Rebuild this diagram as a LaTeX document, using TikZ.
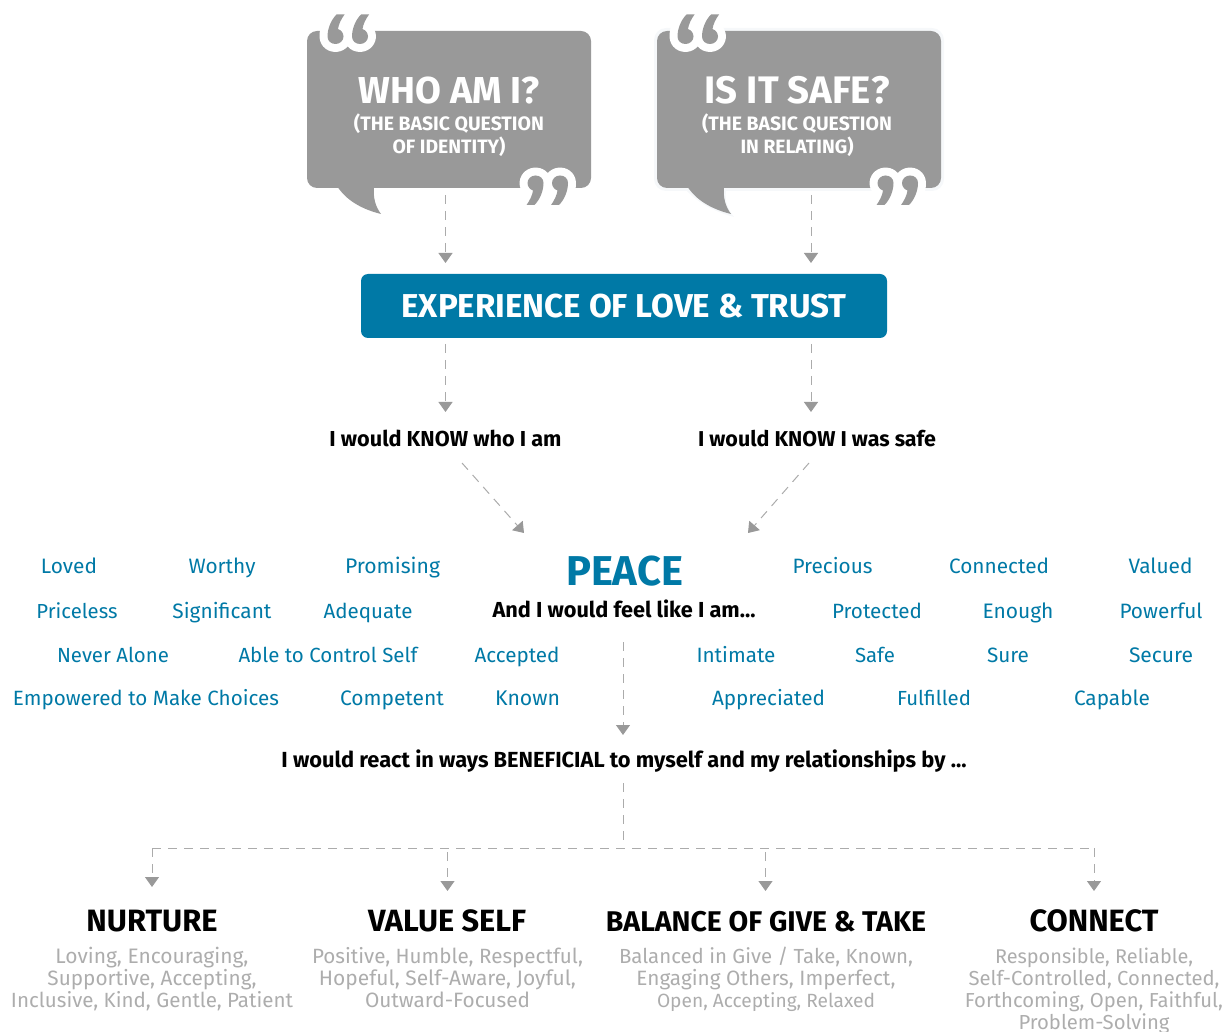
\documentclass[tikz,border=0pt]{standalone}
\usepackage{fontspec}
\usepackage{graphicx}
\setmainfont{Fira Sans}
\usetikzlibrary{arrows.meta}
\definecolor{tealblue}{HTML}{0079A6}
\definecolor{bubgray}{HTML}{999999}
\definecolor{dashgray}{HTML}{ABABAB}
\definecolor{softgray}{HTML}{ADADAD}
\definecolor{halo}{HTML}{F6F8FA}
\newcommand{\T}[7][]{\node[lab,#1] (#2) at (#3,#4) {\resizebox{#5pt}{!}{\fontsize{#6}{#6}\selectfont #7}};}
\newcommand{\sixpath}{(1,-22) .. controls (-5,-16) and (-8,-7) .. (-8,0) .. controls (-8,4.5) and (-4.5,7.5) .. (0,7.5) .. controls (4.5,7.5) and (8,4) .. (8,0) .. controls (8,-3.5) and (5.5,-6.5) .. (2.5,-7.5) .. controls (3,-12) and (6,-18) .. (9,-22) -- cycle}
\tikzset{
  lab/.style={anchor=base,inner sep=0pt,outer sep=0pt},
  kw/.style={lab,text=tealblue},
  hd/.style={lab,text=black,font=\bfseries},
  wt/.style={lab,text=white,font=\bfseries},
  sf/.style={lab,text=softgray},
  bubble/.style={fill=bubgray,rounded corners=10pt,minimum width=284pt,minimum height=157pt,inner sep=0pt},
  flow/.style={draw=dashgray,line width=1pt,dash pattern=on 9pt off 7pt,-{Triangle[length=10pt,width=14pt,fill=bubgray,color=bubgray]}},
  trunk/.style={draw=dashgray,line width=1pt,dash pattern=on 9pt off 7pt},
  lovebox/.style={fill=tealblue,rounded corners=7pt,minimum width=526pt,minimum height=64pt,inner sep=0pt,text=white,font=\bfseries},
  qhalo/.style={fill=white,draw=white,line width=16pt,line join=round},
}
\begin{document}
\begin{tikzpicture}[x=1pt,y=-1pt]
\useasboundingbox (0,0) rectangle (1227,1032);
% halo of the second bubble
\fill[halo,rounded corners=12pt] (654,28) rectangle (944,191);
\fill[halo] (684,188) .. controls (697,202) and (712,211) .. (734,217) .. controls (726,207) and (724,198) .. (727,186) -- cycle;
% bubbles
\node[bubble] (who) at (449,109.5) {};
\fill[bubgray] (337,186) .. controls (346,200) and (361,209) .. (381,214) .. controls (375,206) and (373,197) .. (374,186) -- cycle;
\node[bubble] (safe) at (799,109.5) {};
\fill[bubgray] (687,186) .. controls (696,200) and (711,209) .. (731,214) .. controls (725,206) and (723,197) .. (724,186) -- cycle;
% quote marks: white halos first, then the marks
\foreach \ox in {0,350}{
  \begin{scope}[shift={(335.5+\ox,36.5)}]
    \fill[qhalo] \sixpath;
  \end{scope}
  \begin{scope}[shift={(360+\ox,36.5)}]
    \fill[qhalo] \sixpath;
  \end{scope}
  \begin{scope}[shift={(535.5+\ox,183)},x=-1pt,y=1pt]
    \fill[qhalo] \sixpath;
  \end{scope}
  \begin{scope}[shift={(560+\ox,183)},x=-1pt,y=1pt]
    \fill[qhalo] \sixpath;
  \end{scope}
}
\fill[white] (300,0) rectangle (960,15);
\fill[white] (510,205) rectangle (600,225);
\fill[white] (860,205) rectangle (950,225);
\foreach \ox in {0,350}{
  \begin{scope}[shift={(335.5+\ox,36.5)}]
    \fill[bubgray] \sixpath;
  \end{scope}
  \begin{scope}[shift={(360+\ox,36.5)}]
    \fill[bubgray] \sixpath;
  \end{scope}
  \begin{scope}[shift={(535.5+\ox,183)},x=-1pt,y=1pt]
    \fill[bubgray] \sixpath;
  \end{scope}
  \begin{scope}[shift={(560+\ox,183)},x=-1pt,y=1pt]
    \fill[bubgray] \sixpath;
  \end{scope}
}
% bubble text
\T[wt]{q1}{449}{104}{181}{34}{WHO AM I?}
\T[wt]{q1a}{449}{131}{190}{18}{(THE BASIC QUESTION}
\T[wt]{q1b}{449}{153.5}{113}{18}{OF IDENTITY)}
\T[wt]{q2}{797}{104}{185}{34}{IS IT SAFE?}
\T[wt]{q2a}{797}{131}{190}{18}{(THE BASIC QUESTION}
\T[wt]{q2b}{797}{153.5}{113}{18}{IN RELATING)}
% central box
\node[lovebox] (love) at (624,306) {\resizebox{445pt}{!}{\fontsize{30}{30}\selectfont EXPERIENCE OF LOVE \& TRUST}};
% statements
\T[hd]{know1}{445.5}{446.5}{232}{20}{I would KNOW who I am}
\T[hd]{know2}{817}{446}{238}{20}{I would KNOW I was safe}
\T[hd,text=tealblue]{peace}{624.5}{585}{117}{38}{PEACE}
\T[hd]{feel}{624}{617.5}{263}{20}{And I would feel like I am...}
\T[hd]{react}{624}{767}{685}{20}{I would react in ways BENEFICIAL to myself and my relationships by ...}
% keywords
\T[kw]{k01}{69}{573}{56}{20}{Loved}
\T[kw]{k02}{222}{573}{67}{20}{Worthy}
\T[kw]{k03}{392.5}{573}{95}{20}{Promising}
\T[kw]{k04}{832.5}{573}{80}{20}{Precious}
\T[kw]{k05}{999}{573}{100}{20}{Connected}
\T[kw]{k06}{1160.5}{573}{64}{20}{Valued}
\T[kw]{k07}{77}{618}{81}{20}{Priceless}
\T[kw]{k08}{222}{618}{99}{20}{Significant}
\T[kw]{k09}{368}{618}{89}{20}{Adequate}
\T[kw]{k10}{877}{618}{90}{20}{Protected}
\T[kw]{k11}{1018}{618}{71}{20}{Enough}
\T[kw]{k12}{1161}{618}{83}{20}{Powerful}
\T[kw]{k13}{113}{662}{112}{20}{Never Alone}
\T[kw]{k14}{328}{662}{179}{20}{Able to Control Self}
\T[kw]{k15}{517}{662}{85}{20}{Accepted}
\T[kw]{k16}{736}{662}{79}{20}{Intimate}
\T[kw]{k17}{875}{662}{40}{20}{Safe}
\T[kw]{k18}{1008}{662}{42}{20}{Sure}
\T[kw]{k19}{1161}{662}{64}{20}{Secure}
\T[kw]{k20}{146}{705}{266}{20}{Empowered to Make Choices}
\T[kw]{k21}{392}{705}{104}{20}{Competent}
\T[kw]{k22}{527.5}{705}{65}{20}{Known}
\T[kw]{k23}{768.5}{705}{113}{20}{Appreciated}
\T[kw]{k24}{934}{705}{74}{20}{Fulfilled}
\T[kw]{k25}{1112}{705}{76}{20}{Capable}
% headings
\T[hd]{h1}{152}{931.5}{131}{27}{NURTURE}
\T[hd]{h2}{447}{931.5}{158}{27}{VALUE SELF}
\T[hd]{h3}{766}{931.5}{320}{27}{BALANCE OF GIVE \& TAKE}
\T[hd]{h4}{1094}{931.5}{129}{27}{CONNECT}
% descriptions
\T[sf]{d11}{152}{963.5}{193}{20}{Loving, Encouraging,}
\T[sf]{d12}{152}{985.5}{209}{20}{Supportive, Accepting,}
\T[sf]{d13}{152}{1007}{282}{20}{Inclusive, Kind, Gentle, Patient}
\T[sf]{d21}{447.5}{963.5}{271}{20}{Positive, Humble, Respectful,}
\T[sf]{d22}{447.5}{985.5}{257}{20}{Hopeful, Self-Aware, Joyful,}
\T[sf]{d23}{447.5}{1007}{165}{20}{Outward-Focused}
\T[sf]{d31}{766}{963.5}{294}{20}{Balanced in Give / Take, Known,}
\T[sf]{d32}{766}{985.5}{259}{20}{Engaging Others, Imperfect,}
\T[sf]{d33}{766}{1007}{218}{20}{Open, Accepting, Relaxed}
\T[sf]{d41}{1094}{963.5}{198}{20}{Responsible, Reliable,}
\T[sf]{d42}{1094}{985.5}{251}{20}{Self-Controlled, Connected,}
\T[sf]{d43}{1094}{1007}{258}{20}{Forthcoming, Open, Faithful,}
\T[sf]{d44}{1094}{1029}{151}{20}{Problem-Solving}
% connector ends
\coordinate (w0) at (445.5,195); \coordinate (w1) at (445.5,263);
\coordinate (s0) at (811,195); \coordinate (s1) at (811,263);
\coordinate (l0) at (445.5,344); \coordinate (l1) at (445.5,412);
\coordinate (r0) at (811,344); \coordinate (r1) at (811,412);
\coordinate (dl0) at (462,463); \coordinate (dl1) at (524,533);
\coordinate (dr0) at (809,463); \coordinate (dr1) at (748,533);
\coordinate (c0) at (623,642); \coordinate (c1) at (623,735);
\coordinate (t0) at (623,783); \coordinate (t1) at (623,843);
\coordinate (bl) at (152,848); \coordinate (br) at (1094,848);
\coordinate (n1) at (152,887); \coordinate (n2) at (447.5,891);
\coordinate (n3) at (765.5,891); \coordinate (n4) at (1094,891);
\coordinate (m2) at (447.5,852); \coordinate (m3) at (765.5,852);
% connectors
\draw[flow] (w0) -- (w1);
\draw[flow] (s0) -- (s1);
\draw[flow] (l0) -- (l1);
\draw[flow] (r0) -- (r1);
\draw[flow] (dl0) -- (dl1);
\draw[flow] (dr0) -- (dr1);
\draw[flow] (c0) -- (c1);
\draw[trunk] (t0) -- (t1);
\draw[trunk] (bl) -- (br);
\draw[flow] (bl) -- (n1);
\draw[flow] (m2) -- (n2);
\draw[flow] (m3) -- (n3);
\draw[flow] (br) -- (n4);
\end{tikzpicture}
\end{document}
